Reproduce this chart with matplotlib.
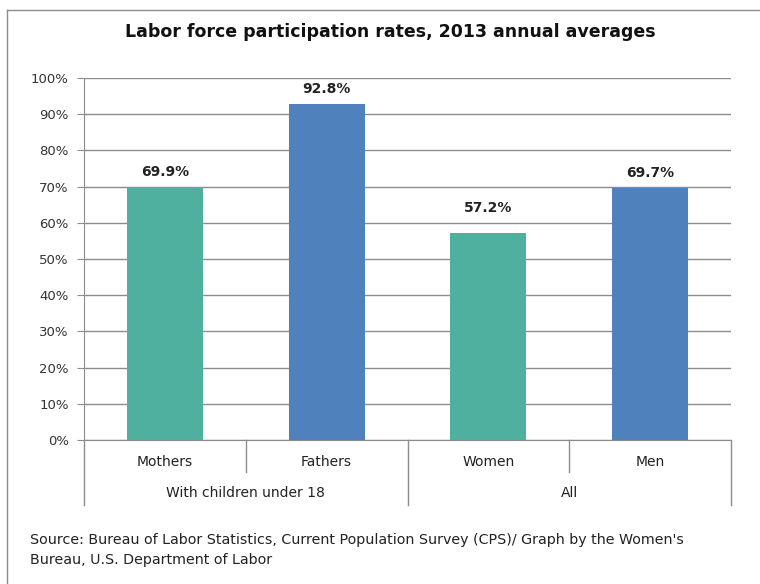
import matplotlib.pyplot as plt
from matplotlib.lines import Line2D

categories = ['Mothers', 'Fathers', 'Women', 'Men']
groups = ['With children under 18', 'All']
values = [69.9, 92.8, 57.2, 69.7]
value_labels = ['69.9%', '92.8%', '57.2%', '69.7%']
label_offsets = [2.2, 2.2, 5.0, 2.2]
y_ticks = [0, 10, 20, 30, 40, 50, 60, 70, 80, 90, 100]

teal = '#4FB09F'
blue = '#4F81BD'
colors = [teal, blue, teal, blue]
grey = '#8c8c8c'

plt.rcParams['font.family'] = ['DejaVu Sans']

fig = plt.figure(figsize=(7.6, 5.84), dpi=100)
W, H = 760, 584

# outer chart border (only top and left visible in the crop)
fig.add_artist(Line2D([7 / W, 1.0], [1 - 10 / H, 1 - 10 / H], transform=fig.transFigure,
                      color=grey, linewidth=1.0))
fig.add_artist(Line2D([7 / W, 7 / W], [0, 1 - 10 / H], transform=fig.transFigure,
                      color=grey, linewidth=1.0))

ax = fig.add_axes([84 / W, 1 - 440 / H, (731 - 84) / W, (440 - 78) / H])
x = list(range(len(categories)))
ax.bar(x, values, width=0.47, color=colors, zorder=3)
for xi, v, lab, off in zip(x, values, value_labels, label_offsets):
    ax.text(xi, v + off, lab, ha='center', va='bottom', fontsize=10, fontweight='bold', color='#222222')

ax.set_xlim(-0.5, 3.5)
ax.set_ylim(0, 100)
ax.set_yticks(y_ticks)
ax.set_yticklabels([f'{t}%' for t in y_ticks], fontsize=9.5, color='#333333')
ax.yaxis.grid(True, color=grey, linewidth=1.0, zorder=0)
ax.tick_params(axis='y', length=5, color=grey, pad=6)
ax.set_xticks([])
for s in ['top', 'right']:
    ax.spines[s].set_visible(False)
ax.spines['left'].set_color(grey)
ax.spines['bottom'].set_color(grey)

# category separators and labels below axis
def fx(xd):
    return ax.transData.transform((xd, 0))[0] / W

sep_short = 1 - 472 / H
sep_long = 1 - 505 / H
y0 = 1 - 440 / H
for i, xs in enumerate([-0.5, 0.5, 1.5, 2.5, 3.5]):
    yb = sep_long if i % 2 == 0 else sep_short
    fig.add_artist(Line2D([fx(xs), fx(xs)], [y0, yb], transform=fig.transFigure,
                          color=grey, linewidth=1.0))
for xi, c in zip(x, categories):
    fig.text(fx(xi), 1 - 462 / H, c, ha='center', va='center', fontsize=10, color='#222222')
for gi, g in enumerate(groups):
    fig.text(fx(2 * gi + 0.5), 1 - 493 / H, g, ha='center', va='center', fontsize=10, color='#222222')

fig.text(0.5 + 10 / W, 1 - 32 / H, 'Labor force participation rates, 2013 annual averages',
         ha='center', va='center', fontsize=12.5, fontweight='bold', color='#111111')

fig.text(30 / W, 1 - 540 / H,
         "Source: Bureau of Labor Statistics, Current Population Survey (CPS)/ Graph by the Women's",
         ha='left', va='center', fontsize=10.3, color='#222222')
fig.text(30 / W, 1 - 560 / H, 'Bureau, U.S. Department of Labor',
         ha='left', va='center', fontsize=10.3, color='#222222')

fig.savefig('out.png', dpi=100)
